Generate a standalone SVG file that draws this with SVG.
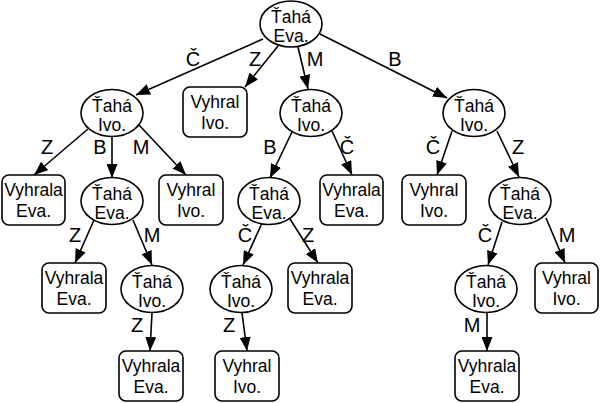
<svg xmlns="http://www.w3.org/2000/svg" width="600" height="403" viewBox="0 0 600 403">
<defs>
<marker id="ah" markerWidth="14" markerHeight="11" refX="14" refY="5.5" orient="auto" markerUnits="userSpaceOnUse">
<path d="M0,0 L14,5.5 L0,11 z" fill="#000"/>
</marker>
<style>
.el{fill:#fff;stroke:#000;stroke-width:1.6}
.bx{fill:#fff;stroke:#000;stroke-width:1.6}
.t{font-family:"Liberation Sans",Arial,sans-serif;font-size:17.5px;text-anchor:middle;fill:#000}
.lb{font-family:"Liberation Sans",Arial,sans-serif;font-size:20px;text-anchor:middle;fill:#000}
.e{stroke:#000;stroke-width:1.6;fill:none;marker-end:url(#ah)}
</style>
</defs>
<rect width="600" height="403" fill="#fff"/>
<g id="connectors">
<line class="e" x1="263" y1="39" x2="136" y2="95"/>
<line class="e" x1="278" y1="46" x2="245" y2="87"/>
<line class="e" x1="298" y1="47" x2="308" y2="89"/>
<line class="e" x1="320" y1="34" x2="447" y2="98"/>
<line class="e" x1="88" y1="129" x2="34" y2="175"/>
<line class="e" x1="112" y1="137" x2="112" y2="178"/>
<line class="e" x1="139" y1="125" x2="186" y2="175"/>
<line class="e" x1="292" y1="132" x2="270" y2="178"/>
<line class="e" x1="332" y1="131" x2="352" y2="175"/>
<line class="e" x1="452" y1="131" x2="437" y2="175"/>
<line class="e" x1="497" y1="131" x2="519" y2="177"/>
<line class="e" x1="94" y1="220" x2="75" y2="263"/>
<line class="e" x1="133" y1="220" x2="152" y2="265"/>
<line class="e" x1="262" y1="223" x2="243" y2="265"/>
<line class="e" x1="290" y1="219" x2="318" y2="263"/>
<line class="e" x1="502" y1="222" x2="488" y2="265"/>
<line class="e" x1="546" y1="218" x2="565" y2="263"/>
<line class="e" x1="152" y1="313" x2="150" y2="351"/>
<line class="e" x1="242" y1="313" x2="247" y2="351"/>
<line class="e" x1="487" y1="313" x2="487" y2="351"/>
</g>
<g id="edge-labels">
<text class="lb" x="193" y="66">Č</text>
<text class="lb" x="255" y="66">Z</text>
<text class="lb" x="315" y="66">M</text>
<text class="lb" x="395" y="66">B</text>
<text class="lb" x="47" y="154">Z</text>
<text class="lb" x="100" y="154">B</text>
<text class="lb" x="141" y="154">M</text>
<text class="lb" x="270" y="154">B</text>
<text class="lb" x="347" y="154">Č</text>
<text class="lb" x="433" y="154">Č</text>
<text class="lb" x="518" y="154">Z</text>
<text class="lb" x="75" y="242">Z</text>
<text class="lb" x="152" y="242">M</text>
<text class="lb" x="245" y="242">Č</text>
<text class="lb" x="308" y="242">Z</text>
<text class="lb" x="485" y="242">Č</text>
<text class="lb" x="567" y="242">M</text>
<text class="lb" x="137" y="332">Z</text>
<text class="lb" x="229" y="332">Z</text>
<text class="lb" x="472" y="332">M</text>
</g>
<g id="root"><ellipse class="el" cx="291" cy="24" rx="31" ry="23"/><text class="t" x="291" y="23">Ťahá</text><text class="t" x="291" y="42">Eva.</text></g>
<g id="n-c"><ellipse class="el" cx="112" cy="113" rx="31" ry="23.5"/><text class="t" x="112" y="112">Ťahá</text><text class="t" x="112" y="131">Ivo.</text></g>
<g id="n-z"><rect class="bx" x="183" y="87" width="64" height="50" rx="7"/><text class="t" x="215" y="108">Vyhral</text><text class="t" x="215" y="129">Ivo.</text></g>
<g id="n-m"><ellipse class="el" cx="311" cy="113" rx="31" ry="23.5"/><text class="t" x="311" y="112">Ťahá</text><text class="t" x="311" y="131">Ivo.</text></g>
<g id="n-b"><ellipse class="el" cx="474" cy="113" rx="31" ry="23.5"/><text class="t" x="474" y="112">Ťahá</text><text class="t" x="474" y="131">Ivo.</text></g>
<g id="n-cz"><rect class="bx" x="2" y="175" width="63" height="50" rx="7"/><text class="t" x="33.5" y="196">Vyhrala</text><text class="t" x="33.5" y="217">Eva.</text></g>
<g id="n-cb"><ellipse class="el" cx="112" cy="201" rx="31" ry="23.5"/><text class="t" x="112" y="200">Ťahá</text><text class="t" x="112" y="219">Eva.</text></g>
<g id="n-cm"><rect class="bx" x="159" y="175" width="64" height="50" rx="7"/><text class="t" x="191" y="196">Vyhral</text><text class="t" x="191" y="217">Ivo.</text></g>
<g id="n-mb"><ellipse class="el" cx="269" cy="201" rx="31" ry="23.5"/><text class="t" x="269" y="200">Ťahá</text><text class="t" x="269" y="219">Eva.</text></g>
<g id="n-mc"><rect class="bx" x="320" y="175" width="63" height="50" rx="7"/><text class="t" x="351.5" y="196">Vyhrala</text><text class="t" x="351.5" y="217">Eva.</text></g>
<g id="n-bc"><rect class="bx" x="402" y="175" width="64" height="50" rx="7"/><text class="t" x="434" y="196">Vyhral</text><text class="t" x="434" y="217">Ivo.</text></g>
<g id="n-bz"><ellipse class="el" cx="520" cy="201" rx="31" ry="23.5"/><text class="t" x="520" y="200">Ťahá</text><text class="t" x="520" y="219">Eva.</text></g>
<g id="n-cbz"><rect class="bx" x="42" y="263" width="64" height="50" rx="7"/><text class="t" x="74" y="284">Vyhrala</text><text class="t" x="74" y="305">Eva.</text></g>
<g id="n-cbm"><ellipse class="el" cx="152" cy="289" rx="31" ry="23.5"/><text class="t" x="152" y="288">Ťahá</text><text class="t" x="152" y="307">Ivo.</text></g>
<g id="n-mbc"><ellipse class="el" cx="241" cy="289" rx="31" ry="23.5"/><text class="t" x="241" y="288">Ťahá</text><text class="t" x="241" y="307">Ivo.</text></g>
<g id="n-mbz"><rect class="bx" x="288" y="263" width="64" height="50" rx="7"/><text class="t" x="320" y="284">Vyhrala</text><text class="t" x="320" y="305">Eva.</text></g>
<g id="n-bzc"><ellipse class="el" cx="486" cy="289" rx="31" ry="23.5"/><text class="t" x="486" y="288">Ťahá</text><text class="t" x="486" y="307">Ivo.</text></g>
<g id="n-bzm"><rect class="bx" x="535" y="263" width="63" height="50" rx="7"/><text class="t" x="566.5" y="284">Vyhral</text><text class="t" x="566.5" y="305">Ivo.</text></g>
<g id="n-cbmz"><rect class="bx" x="119" y="351" width="64" height="50" rx="7"/><text class="t" x="151" y="372">Vyhrala</text><text class="t" x="151" y="393">Eva.</text></g>
<g id="n-mbcz"><rect class="bx" x="215" y="351" width="64" height="50" rx="7"/><text class="t" x="247" y="372">Vyhral</text><text class="t" x="247" y="393">Ivo.</text></g>
<g id="n-bzcm"><rect class="bx" x="455" y="351" width="64" height="50" rx="7"/><text class="t" x="487" y="372">Vyhrala</text><text class="t" x="487" y="393">Eva.</text></g>
</svg>
